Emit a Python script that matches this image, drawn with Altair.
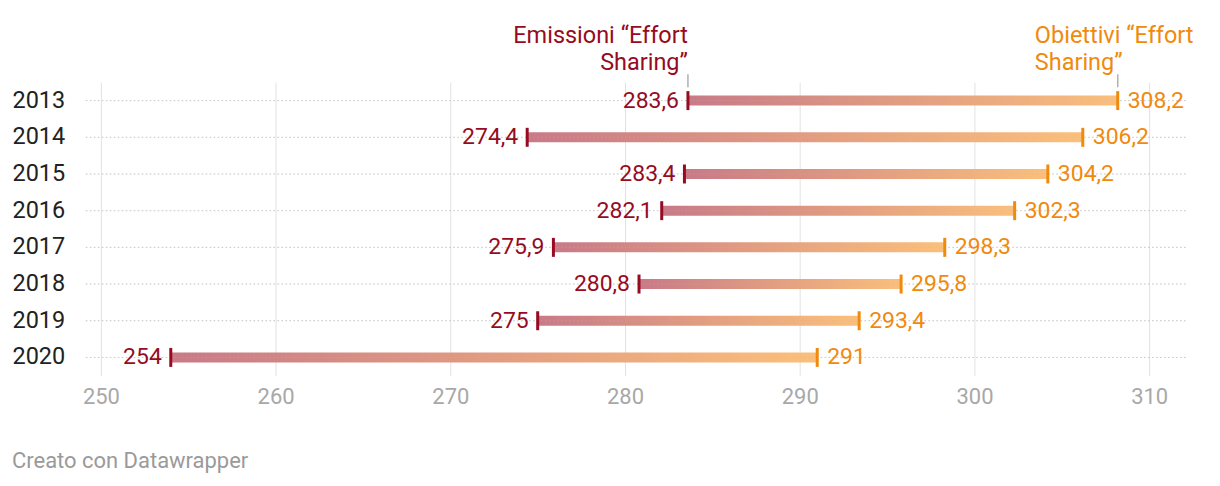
import altair as alt
import pandas as pd

years = ["2013", "2014", "2015", "2016", "2017", "2018", "2019", "2020"]
emissions = [283.6, 274.4, 283.4, 282.1, 275.9, 280.8, 275, 254]
targets = [308.2, 306.2, 304.2, 302.3, 298.3, 295.8, 293.4, 291]
x_ticks = [250, 260, 270, 280, 290, 300, 310]

RED = "#960b22"
ORANGE = "#f08a0c"
FONT = "Roboto"

def fmt(v):
    s = ("%g" % v)
    return s.replace(".", ",")

df = pd.DataFrame({"year": years, "e": emissions, "o": targets})
df["e_lbl"] = [fmt(v) for v in emissions]
df["o_lbl"] = [fmt(v) for v in targets]

W, H = 1102, 294
xscale = alt.Scale(domain=[249.14, 312.11], nice=False, zero=False)
ysort = years

base = alt.Chart(df)

x_enc = alt.X("e:Q", scale=xscale, title=None,
              axis=alt.Axis(values=x_ticks, grid=True, gridColor="#e2e2e2", gridWidth=1,
                            domain=False, ticks=False, labelFontSize=22, labelColor="#a8a8a8",
                            labelFont=FONT, labelPadding=11))
y_enc = alt.Y("year:N", sort=ysort, title=None,
              axis=alt.Axis(domain=False, ticks=False, labelAlign="left", labelPadding=74,
                            labelFontSize=23.5, labelColor="#222222", labelFont=FONT,
                            grid=False))

hgrid = base.mark_rule(color="#cfcfcf", strokeDash=[1.5, 2.5], strokeWidth=1).encode(
    y=alt.Y("year:N", sort=ysort),
    x=alt.value(0), x2=alt.value(W),
)

grad = alt.Gradient(gradient="linear",
                    stops=[alt.GradientStop(color="#c87a87", offset=0),
                           alt.GradientStop(color="#fbbf7b", offset=1)],
                    x1=0, x2=1, y1=0, y2=0)

bars = base.mark_bar(color=grad, size=10).encode(x=x_enc, x2="o:Q", y=y_enc)

hgrid_top = base.mark_rule(color="#bbbbbb", strokeDash=[1.5, 2.5], strokeWidth=1, opacity=0.35).encode(
    y=alt.Y("year:N", sort=ysort),
    x=alt.value(0), x2=alt.value(W),
)

tick_e = base.mark_tick(color=RED, thickness=3, size=19, opacity=1).encode(
    x=alt.X("e:Q", scale=xscale), y=alt.Y("year:N", sort=ysort))
tick_o = base.mark_tick(color=ORANGE, thickness=3, size=19, opacity=1).encode(
    x=alt.X("o:Q", scale=xscale), y=alt.Y("year:N", sort=ysort))

lbl_e = base.mark_text(align="right", baseline="middle", dx=-9, fontSize=23, font=FONT, color=RED).encode(
    x=alt.X("e:Q", scale=xscale), y=alt.Y("year:N", sort=ysort), text="e_lbl:N")
lbl_o = base.mark_text(align="left", baseline="middle", dx=10, fontSize=23, font=FONT, color=ORANGE).encode(
    x=alt.X("o:Q", scale=xscale), y=alt.Y("year:N", sort=ysort), text="o_lbl:N")

first = df.iloc[[0]]
head_e = alt.Chart(first).mark_text(align="right", baseline="alphabetic", fontSize=23.5, font=FONT,
                                    color=RED, lineBreak="\n", lineHeight=27).encode(
    x=alt.X("e:Q", scale=xscale), y=alt.value(-39),
    text=alt.value("Emissioni “Effort\nSharing”"))
head_o = alt.Chart(first).mark_text(align="left", baseline="alphabetic", fontSize=23.5, font=FONT,
                                    color=ORANGE, lineBreak="\n", lineHeight=27, dx=-83).encode(
    x=alt.X("o:Q", scale=xscale), y=alt.value(-39),
    text=alt.value("Obiettivi “Effort\nSharing”"))
pin_e = alt.Chart(first).mark_rule(color="#b0b0b0", strokeWidth=1.5).encode(
    x=alt.X("e:Q", scale=xscale), y=alt.value(-8), y2=alt.value(5))
pin_o = alt.Chart(first).mark_rule(color="#b0b0b0", strokeWidth=1.5).encode(
    x=alt.X("o:Q", scale=xscale), y=alt.value(-8), y2=alt.value(5))

footer = alt.Chart(first).mark_text(align="left", baseline="middle", fontSize=22, font=FONT,
                                    color="#9a9a9a").encode(
    x=alt.value(-74), y=alt.value(H + 85), text=alt.value("Creato con Datawrapper"))

chart = alt.layer(hgrid, bars, hgrid_top, pin_e, pin_o, tick_e, tick_o, lbl_e, lbl_o,
                  head_e, head_o, footer).properties(
    width=W, height=H,
    autosize=alt.AutoSizeParams(type="none"),
    padding={"left": 78, "top": 74, "right": 26, "bottom": 100},
).configure_view(stroke=None).configure_scale(bandPaddingInner=0, bandPaddingOuter=0)

chart.save("out.html", embed_options={"renderer": "svg", "actions": False})
